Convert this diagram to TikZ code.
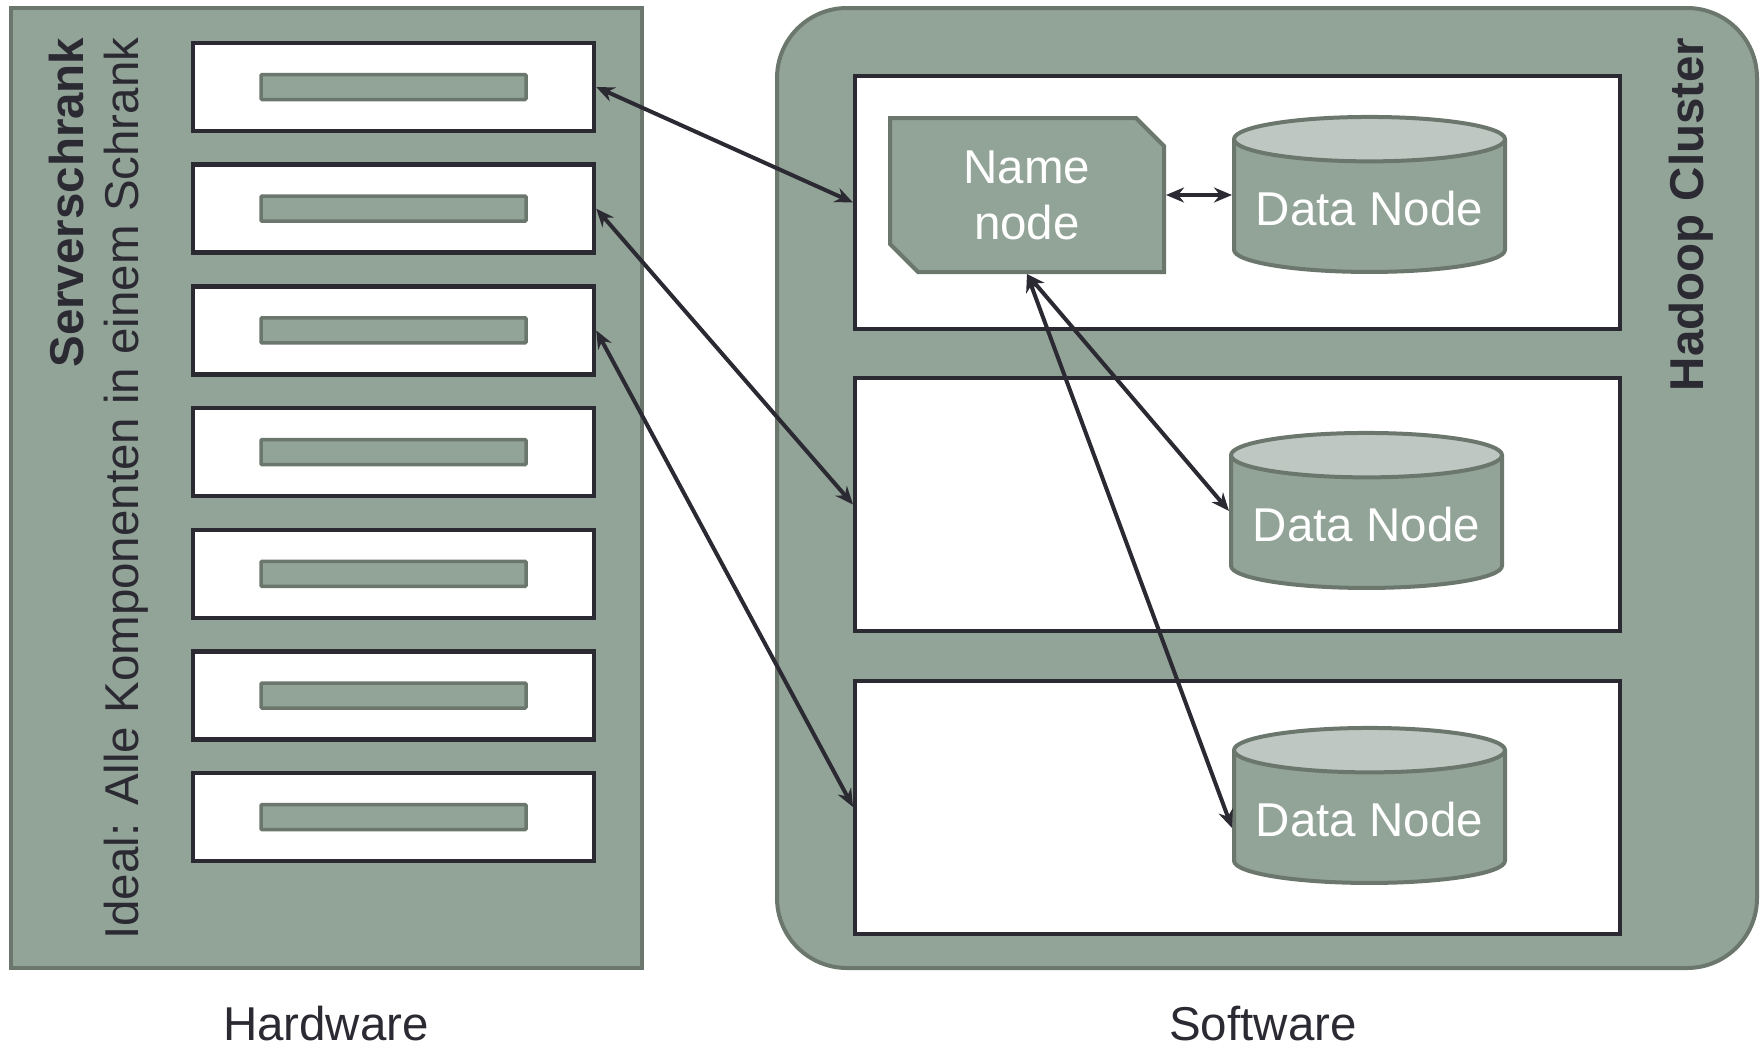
\documentclass[tikz,border=0pt]{standalone}
\usepackage{fontspec}
\setmainfont{Liberation Sans}
\usepackage{xcolor}
\usetikzlibrary{arrows.meta,shapes.geometric,shapes.misc,positioning}
\definecolor{rackgreen}{RGB}{146,163,151}
\definecolor{rackedge}{RGB}{107,119,109}
\definecolor{disktop}{RGB}{190,199,193}
\definecolor{darkline}{RGB}{43,42,51}

\begin{document}
\begin{tikzpicture}[x=1pt,y=-1pt,>={Stealth[length=18pt,width=15pt]}]
            \tikzstyle{every node}=[font=\fontsize{47.5}{56}\selectfont,text=darkline];
            \tikzstyle{frame}=[draw=rackedge,fill=rackgreen,line width=4pt];
            \tikzstyle{slot}=[draw=darkline,fill=white,line width=4.5pt,minimum width=401pt,minimum height=88pt];
            \tikzstyle{bar}=[draw=rackedge,fill=rackgreen,line width=3.5pt,rounded corners=1pt,minimum width=265pt,minimum height=25pt];
            \tikzstyle{box}=[draw=darkline,fill=white,line width=4pt,minimum width=765pt,minimum height=253pt];
            \tikzstyle{namebox}=[chamfered rectangle,chamfered rectangle corners={north east,south west},chamfered rectangle xsep=13pt,chamfered rectangle ysep=15pt,draw=rackedge,fill=rackgreen,line width=4pt,minimum width=274pt,minimum height=154pt,text=white,align=center];
            \tikzstyle{disk}=[cylinder,shape border rotate=90,aspect=0.19,cylinder uses custom fill,cylinder body fill=rackgreen,cylinder end fill=disktop,draw=rackedge,line width=4pt,minimum width=271pt,minimum height=155pt,text=white];
            \tikzstyle{link}=[draw=darkline,line width=4pt];
            \useasboundingbox (0,0) rectangle (1762,1047);
            \node[frame,minimum width=631pt,minimum height=960pt] (rack) at (326.5,488) {};
            \foreach \i in {1,...,7} {
                \node[slot] (s\i) at (393.5,{87+121.7*(\i-1)}) {};
                \node[bar] (bar\i) at (s\i) {};
            }
            \node[frame,rounded corners=70pt,minimum width=980pt,minimum height=960pt] (cluster) at (1267,488) {};
            \node[box] (b1) at (1237.5,202.5) {};
            \node[box] (b2) at (1237.5,504.5) {};
            \node[box] (b3) at (1237.5,807) {};
            \node[namebox] (nn) at (1027,195) {Name\\node};
            \node[disk] (d1) at (1369.5,209) {Data Node};
            \node[disk] (d2) at (1366.5,525) {Data Node};
            \node[disk] (d3) at (1369.5,820) {Data Node};
            \node[rotate=90,anchor=east,font=\fontsize{47.5}{56}\selectfont\bfseries] (lblrack) at (67,34) {Serverschrank};
            \node[rotate=90,anchor=east] (lblideal) at (126,34) {Ideal: Alle Komponenten in einem Schrank};
            \node[rotate=90,anchor=east,font=\fontsize{47.5}{56}\selectfont\bfseries] (lblcluster) at (1691,34) {Hadoop Cluster};
            \node[anchor=base,inner sep=0pt] (hw) at (326,1040) {Hardware};
            \node[anchor=base,inner sep=0pt] (sw) at (1263,1040) {Software};
            \path[link] [<->] (s1.east) -- (b1.west);
            \path[link] [<->] (s2.east) -- (b2.west);
            \path[link] [<->] (s3.east) -- (b3.west);
            \path[link] [<->] (nn.east) -- (nn.east -| d1.west);
            \path[link] [<->] (nn.south) -- ([yshift=14pt]d2.west);
            \path[link] [<->] (nn.south) -- ([yshift=-8pt]d3.west);
        \end{tikzpicture}
\end{document}
